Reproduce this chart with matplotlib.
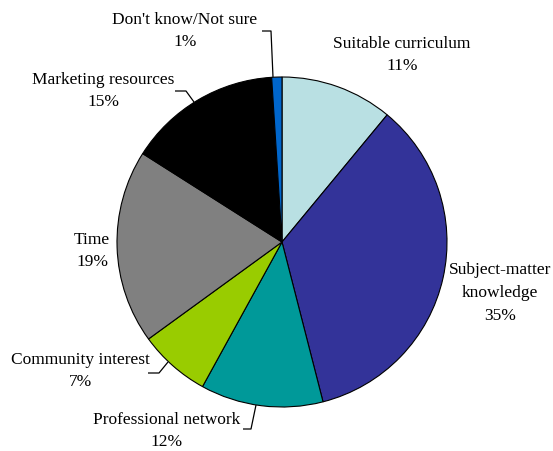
import matplotlib
matplotlib.use("Agg")
import matplotlib.pyplot as plt

categories = ["Suitable curriculum", "Subject-matter\nknowledge", "Professional network",
              "Community interest", "Time", "Marketing resources", "Don't know/Not sure"]
values = [11, 35, 12, 7, 19, 15, 1]
colors = ["#B9E0E3", "#333399", "#009999", "#99CC00", "#808080", "#000000", "#0066CC"]

W, H = 553, 451
fig = plt.figure(figsize=(W / 100, H / 100), dpi=100)
ax = fig.add_axes([0, 0, 1, 1])

plt.rcParams["font.family"] = ["Liberation Serif", "DejaVu Serif"]

cx, cy, r = 282, H - 242, 165
ax.pie(values, colors=colors, startangle=90, counterclock=False,
       center=(cx, cy), radius=r,
       wedgeprops=dict(edgecolor="black", linewidth=0.8), frame=True)
ax.set_xlim(0, W)
ax.set_ylim(0, H)
ax.set_aspect("equal")
ax.axis("off")

# label anchor points (pixel coordinates, top-down y)
label_pos = [(402, 55), (500, 293), (167, 431), (80, 371), (92, 251), (103, 91), (185, 31)]
for name, v, (px, py) in zip(categories, values, label_pos):
    ax.text(px, H - py, f"{name}\n{v}%", ha="center", va="center",
            fontsize=12.5, linespacing=1.55, family=["Liberation Serif", "DejaVu Serif"])

# leader lines
leaders = [
    [(262, 31), (271, 31), (273, 77)],
    [(175, 91), (186, 91), (194, 102)],
    [(148, 373), (159, 373), (168, 362)],
    [(243, 429), (251, 429), (256, 405)],
]
for pts in leaders:
    xs = [p[0] for p in pts]
    ys = [H - p[1] for p in pts]
    ax.plot(xs, ys, color="black", linewidth=0.9, solid_capstyle="butt")

fig.savefig("out.png", dpi=100)
